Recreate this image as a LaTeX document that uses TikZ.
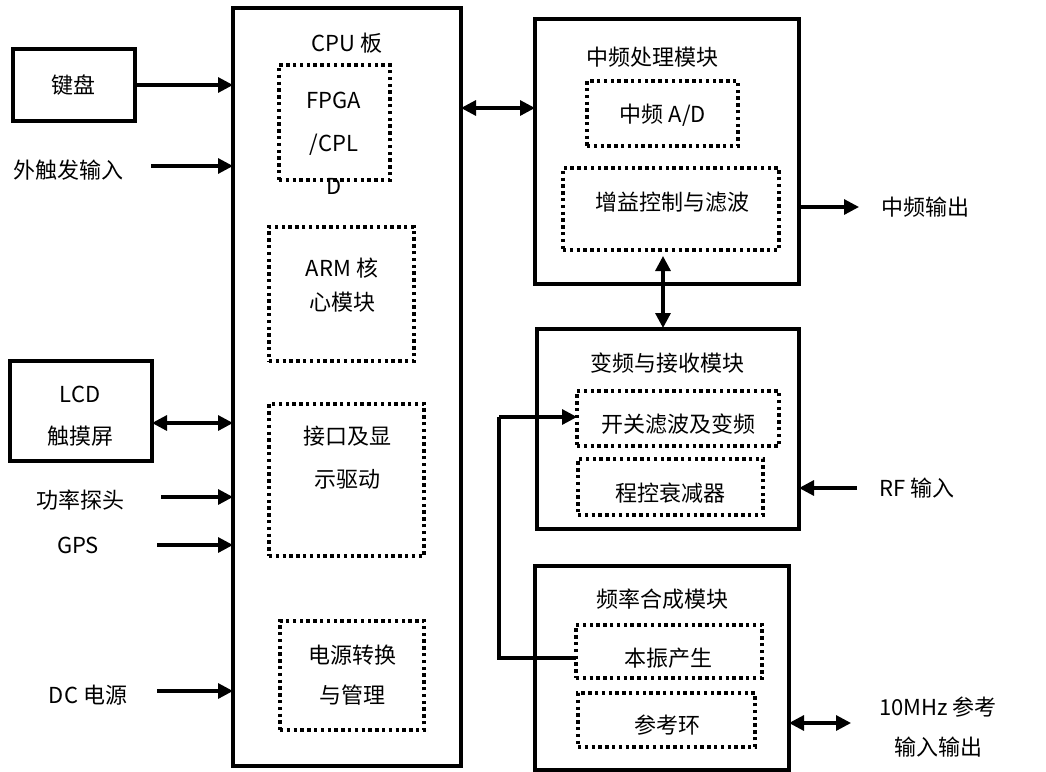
\documentclass[tikz,border=0pt]{standalone}
\usepackage{fontspec}
\setmainfont{Noto Sans CJK SC}
\usetikzlibrary{arrows.meta}
\tikzset{
  box/.style={draw, line width=3.2pt, outer sep=0pt, inner sep=0pt},
  dbox/.style={draw, line width=3.4pt, dash pattern=on 3.4pt off 3.4pt, outer sep=0pt, inner sep=0pt},
  lbl/.style={font=\fontsize{22}{26}\selectfont, inner sep=0pt, align=center},
  conn/.style={line width=3.2pt, -{Triangle[length=15pt,width=15pt]}},
  biconn/.style={line width=3.2pt, {Triangle[length=15pt,width=15pt]}-{Triangle[length=15pt,width=15pt]}},
  plain/.style={line width=3.2pt}
}
\begin{document}
\begin{tikzpicture}[x=1pt,y=-1pt]
\useasboundingbox (0,0) rectangle (1046,771);
% CPU board
\node[box, minimum width=228pt, minimum height=758pt] (cpu) at (347,387) {};
\node[lbl] (cpuT) at (347,43) {CPU 板};
\node[dbox, minimum width=111pt, minimum height=115pt] (fpga) at (334.5,122.5) {};
\node[lbl, font=\fontsize{22}{43}\selectfont] (fpgaT) at (334,143) {FPGA\\/CPL\\D};
\node[dbox, minimum width=145pt, minimum height=134pt] (arm) at (341.5,294) {};
\node[lbl, font=\fontsize{22}{34}\selectfont] (armT) at (342,285) {ARM 核\\心模块};
\node[dbox, minimum width=155pt, minimum height=152pt] (intf) at (346.5,480) {};
\node[lbl, font=\fontsize{22}{43}\selectfont] (intfT) at (347,458) {接口及显\\示驱动};
\node[dbox, minimum width=144pt, minimum height=109pt] (pwr) at (352,675.5) {};
\node[lbl, font=\fontsize{22}{40}\selectfont] (pwrT) at (352,675) {电源转换\\与管理};
% left side
\node[box, minimum width=122pt, minimum height=72pt] (kb) at (74,85) {};
\node[lbl] (kbT) at (73,85) {键盘};
\node[lbl] (trig) at (68,170) {外触发输入};
\coordinate (trigS) at (151,166);
\node[box, minimum width=142pt, minimum height=100pt] (lcd) at (81,411) {};
\node[lbl, font=\fontsize{22}{42}\selectfont] (lcdT) at (80,416) {LCD\\触摸屏};
\node[lbl] (prb) at (80,500) {功率探头};
\coordinate (prbS) at (161,497);
\node[lbl] (gps) at (78,545) {GPS};
\coordinate (gpsS) at (157,545);
\node[lbl] (dc) at (88,695) {DC 电源};
\coordinate (dcS) at (157,691);
\draw[conn] (kb.east) -- (kb.east -| cpu.west);
\draw[conn] (trigS) -- (trigS -| cpu.west);
\draw[biconn] (lcd.east |- 0,423) -- (cpu.west |- 0,423);
\draw[conn] (prbS) -- (prbS -| cpu.west);
\draw[conn] (gpsS) -- (gpsS -| cpu.west);
\draw[conn] (dcS) -- (dcS -| cpu.west);
% IF module
\node[box, minimum width=264pt, minimum height=265pt] (ifm) at (667,151.5) {};
\node[lbl] (ifT) at (652,57) {中频处理模块};
\node[dbox, minimum width=151pt, minimum height=65pt] (ifad) at (662.5,113.5) {};
\node[lbl] (ifadT) at (663,115) {中频 A/D};
\node[dbox, minimum width=216pt, minimum height=82pt] (agc) at (671,209) {};
\node[lbl] (agcT) at (672,202) {增益控制与滤波};
\draw[biconn] (cpu.east |- 0,108) -- (ifm.west |- 0,108);
\coordinate (ifoutE) at (859,207);
\draw[conn] (ifm.east |- ifoutE) -- (ifoutE);
\node[lbl] (ifout) at (925,207) {中频输出};
% receiver module
\node[box, minimum width=262pt, minimum height=200pt] (rx) at (668,429) {};
\node[lbl] (rxT) at (667,363) {变频与接收模块};
\node[dbox, minimum width=202pt, minimum height=55pt] (mix) at (678,418.5) {};
\node[lbl] (mixT) at (678,424) {开关滤波及变频};
\node[dbox, minimum width=185pt, minimum height=56pt] (att) at (670.5,487) {};
\node[lbl] (attT) at (670,493) {程控衰减器};
\coordinate (vA) at (663,256);
\coordinate (vB) at (663,328);
\draw[biconn] (vA) -- (vB);
\coordinate (rfS) at (857,488);
\draw[conn] (rfS) -- (rfS -| rx.east);
\node[lbl] (rf) at (917,488) {RF 输入};
% synth module
\node[box, minimum width=254pt, minimum height=204pt] (syn) at (662,668) {};
\node[lbl] (synT) at (662,599) {频率合成模块};
\node[dbox, minimum width=186pt, minimum height=53pt] (lo) at (669,651.5) {};
\node[lbl] (loT) at (668,658) {本振产生};
\node[dbox, minimum width=177pt, minimum height=54pt] (ref) at (666.5,720) {};
\node[lbl] (refT) at (667,725) {参考环};
\coordinate (refE) at (851,723);
\draw[biconn] (syn.east |- refE) -- (refE);
\node[lbl, font=\fontsize{22}{40}\selectfont] (refL) at (938,727) {10MHz 参考\\输入输出};
% LO connector
\coordinate (bendA) at (499,658);
\coordinate (bendB) at (499,417);
\draw[plain] (lo.west |- bendA) -- (bendA) -- (bendB);
\draw[conn] (bendB) -- (bendB -| mix.west);
\end{tikzpicture}
\end{document}
